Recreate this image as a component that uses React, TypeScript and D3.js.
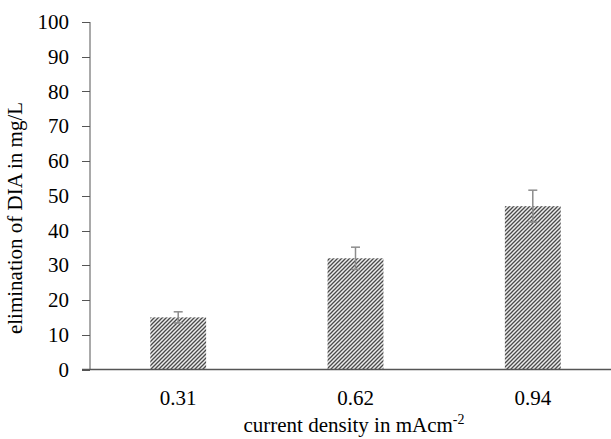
import React from "react";
import * as d3 from "d3";

// current density categories (mA cm-2)
const categories = ["0.31", "0.62", "0.94"];
// elimination of DIA in mg/L
const values = [15, 32, 47];
const errors = [1.6, 3.2, 4.6];
const yTicks = [0, 10, 20, 30, 40, 50, 60, 70, 80, 90, 100];

const W = 611;
const H = 439;
const font = "'Liberation Serif', 'Times New Roman', serif";

const App = () => {
    const x = d3.scaleBand().domain(categories).range([90, 621]).paddingInner(0.685).paddingOuter(0.34);
    const y = d3.scaleLinear().domain([0, 100]).range([369.5, 22]);

    return (
        <svg width={W} height={H} style={{ position: "absolute", left: 0, top: 0, background: "#fff" }}>
            <defs>
                <pattern id="hatch" patternUnits="userSpaceOnUse" width={4} height={4}>
                    <rect width={4} height={4} fill="#ececec" />
                    <path d="M-1,1 l2,-2 M0,4 l4,-4 M3,5 l2,-2" stroke="#4a4a4a" strokeWidth={1.3} />
                </pattern>
            </defs>

            {/* y axis */}
            <line x1={90} x2={90} y1={y(100)} y2={y(0)} stroke="#555" strokeWidth={1} />
            {yTicks.map((t) => (
                <g key={t}>
                    <line x1={82} x2={90} y1={Math.round(y(t)) + 0.5} y2={Math.round(y(t)) + 0.5} stroke="#555" />
                    <text x={69} y={y(t)} textAnchor="end" dominantBaseline="central" fontSize={21} fontFamily={font} fill="#000">
                        {t}
                    </text>
                </g>
            ))}

            {/* bars */}
            {values.map((v, i) => {
                const c = categories[i];
                const bx = x(c);
                const cx = bx + x.bandwidth() / 2;
                return (
                    <g key={c}>
                        <rect x={bx} y={y(v)} width={x.bandwidth()} height={y(0) - y(v)} fill="url(#hatch)" />
                        <line x1={cx} x2={cx} y1={y(v + errors[i])} y2={y(v - errors[i])} stroke="#8c8c8c" strokeWidth={1.5} />
                        <line x1={cx - 4.5} x2={cx + 4.5} y1={y(v + errors[i])} y2={y(v + errors[i])} stroke="#8c8c8c" strokeWidth={1.5} />
                        <line x1={cx - 4.5} x2={cx + 4.5} y1={y(v - errors[i])} y2={y(v - errors[i])} stroke="#8c8c8c" strokeWidth={1.5} />
                    </g>
                );
            })}

            {/* x axis */}
            <line x1={82} x2={W} y1={y(0)} y2={y(0)} stroke="#555" strokeWidth={1.5} />
            {categories.map((c) => (
                <text key={c} x={x(c) + x.bandwidth() / 2} y={405} textAnchor="middle" fontSize={21} fontFamily={font} fill="#000">
                    {c}
                </text>
            ))}

            <text x={354} y={432} textAnchor="middle" fontSize={21} fontFamily={font} fill="#000">
                current density in mAcm<tspan dy={-8} fontSize={14}>-2</tspan>
            </text>
            <text transform="translate(22,218) rotate(-90)" textAnchor="middle" fontSize={21} fontFamily={font} fill="#000">
                elimination of DIA in mg/L
            </text>
        </svg>
    );
};

export default App;
